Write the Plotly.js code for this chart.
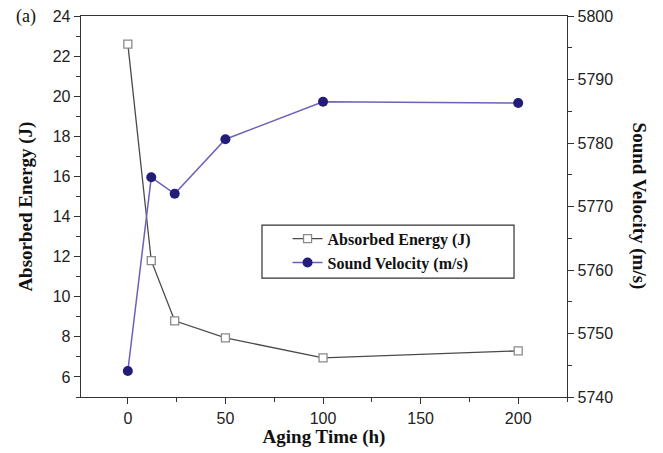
<!DOCTYPE html>
<html>
<head>
<meta charset="utf-8">
<script src="https://cdn.plot.ly/plotly-3.0.1.min.js"></script>
<style>html,body{margin:0;padding:0;background:#fff;}</style>
</head>
<body>
<div id="chart" style="width:663px;height:453px;"></div>
<script>
const agingTime = [0, 12, 24, 50, 100, 200];
const absorbedEnergy = [22.6, 11.8, 8.8, 7.95, 6.95, 7.3];
const soundVelocity = [5744.1, 5774.6, 5772.0, 5780.6, 5786.5, 5786.3];
const xTicks = [0, 50, 100, 150, 200];

const serif = 'Liberation Serif, Times New Roman, serif';
const tickFont = {family: 'Liberation Sans, Arial, sans-serif', size: 16, color: '#222'};
const titleFont = {family: serif, size: 19, color: '#111', weight: 'bold'};

const traces = [
  {
    x: agingTime, y: absorbedEnergy, name: '<b>Absorbed Energy (J)</b>',
    mode: 'lines+markers', yaxis: 'y',
    line: {color: '#4a4a4a', width: 1.3},
    marker: {symbol: 'square', size: 8, color: '#ffffff', line: {color: '#8a8a8a', width: 1.3}}
  },
  {
    x: agingTime, y: soundVelocity, name: '<b>Sound Velocity (m/s)</b>',
    mode: 'lines+markers', yaxis: 'y2',
    line: {color: '#6a62b8', width: 1.5},
    marker: {symbol: 'circle', size: 10, color: '#231c78'}
  }
];

const layout = {
  width: 663, height: 453,
  margin: {l: 81, r: 96, t: 16, b: 56},
  paper_bgcolor: '#fff', plot_bgcolor: '#fff',
  showlegend: true,
  legend: {
    x: 0.425, y: 0.46, xanchor: 'left', yanchor: 'top',
    borderwidth: 0, bgcolor: 'rgba(0,0,0,0)',
    font: {family: serif, size: 16, color: '#111'},
    tracegroupgap: 0
  },
  shapes: [{
    type: 'rect', xref: 'paper', yref: 'paper',
    x0: 0.3724, x1: 0.891, y0: 0.312, y1: 0.451,
    line: {color: '#333', width: 1.2}, fillcolor: 'rgba(0,0,0,0)', layer: 'above'
  }],
  xaxis: {
    range: [-24, 225], tickvals: xTicks, ticks: 'outside', ticklen: 6, tickcolor: '#333',
    minor: {dtick: 25, tick0: 0, ticks: 'outside', ticklen: 4, tickcolor: '#333'},
    showline: true, linecolor: '#333', linewidth: 1.3, mirror: true,
    showgrid: false, zeroline: false, tickfont: tickFont,
    title: {text: '<b>Aging Time (h)</b>', font: titleFont, standoff: 2}
  },
  yaxis: {
    range: [5, 24], dtick: 2, tick0: 0, ticks: 'outside', ticklen: 6, tickcolor: '#333',
    minor: {dtick: 1, tick0: 0, ticks: 'outside', ticklen: 4, tickcolor: '#333'},
    showline: true, linecolor: '#333', linewidth: 1.3,
    showgrid: false, zeroline: false, tickfont: tickFont
  },
  yaxis2: {
    overlaying: 'y', side: 'right',
    range: [5740, 5800], dtick: 10, ticks: 'outside', ticklen: 6, tickcolor: '#333',
    minor: {dtick: 5, ticks: 'outside', ticklen: 4, tickcolor: '#333'},
    showline: true, linecolor: '#333', linewidth: 1.3,
    showgrid: false, zeroline: false, tickfont: tickFont
  },
  annotations: [
    {
      text: '(a)', xref: 'paper', yref: 'paper', x: -0.138, y: 1.0, xanchor: 'left', yanchor: 'middle',
      showarrow: false, font: {family: serif, size: 18, color: '#111'}
    },
    {
      text: '<b>Absorbed Energy (J)</b>', xref: 'paper', yref: 'paper', x: -0.115, y: 0.5,
      xanchor: 'center', yanchor: 'middle', textangle: -90, showarrow: false, font: titleFont
    },
    {
      text: '<b>Sound Velocity (m/s)</b>', xref: 'paper', yref: 'paper', x: 1.15, y: 0.5,
      xanchor: 'center', yanchor: 'middle', textangle: 90, showarrow: false, font: titleFont
    }
  ]
};

Plotly.newPlot('chart', traces, layout, {displayModeBar: false, staticPlot: true});
</script>
</body>
</html>
